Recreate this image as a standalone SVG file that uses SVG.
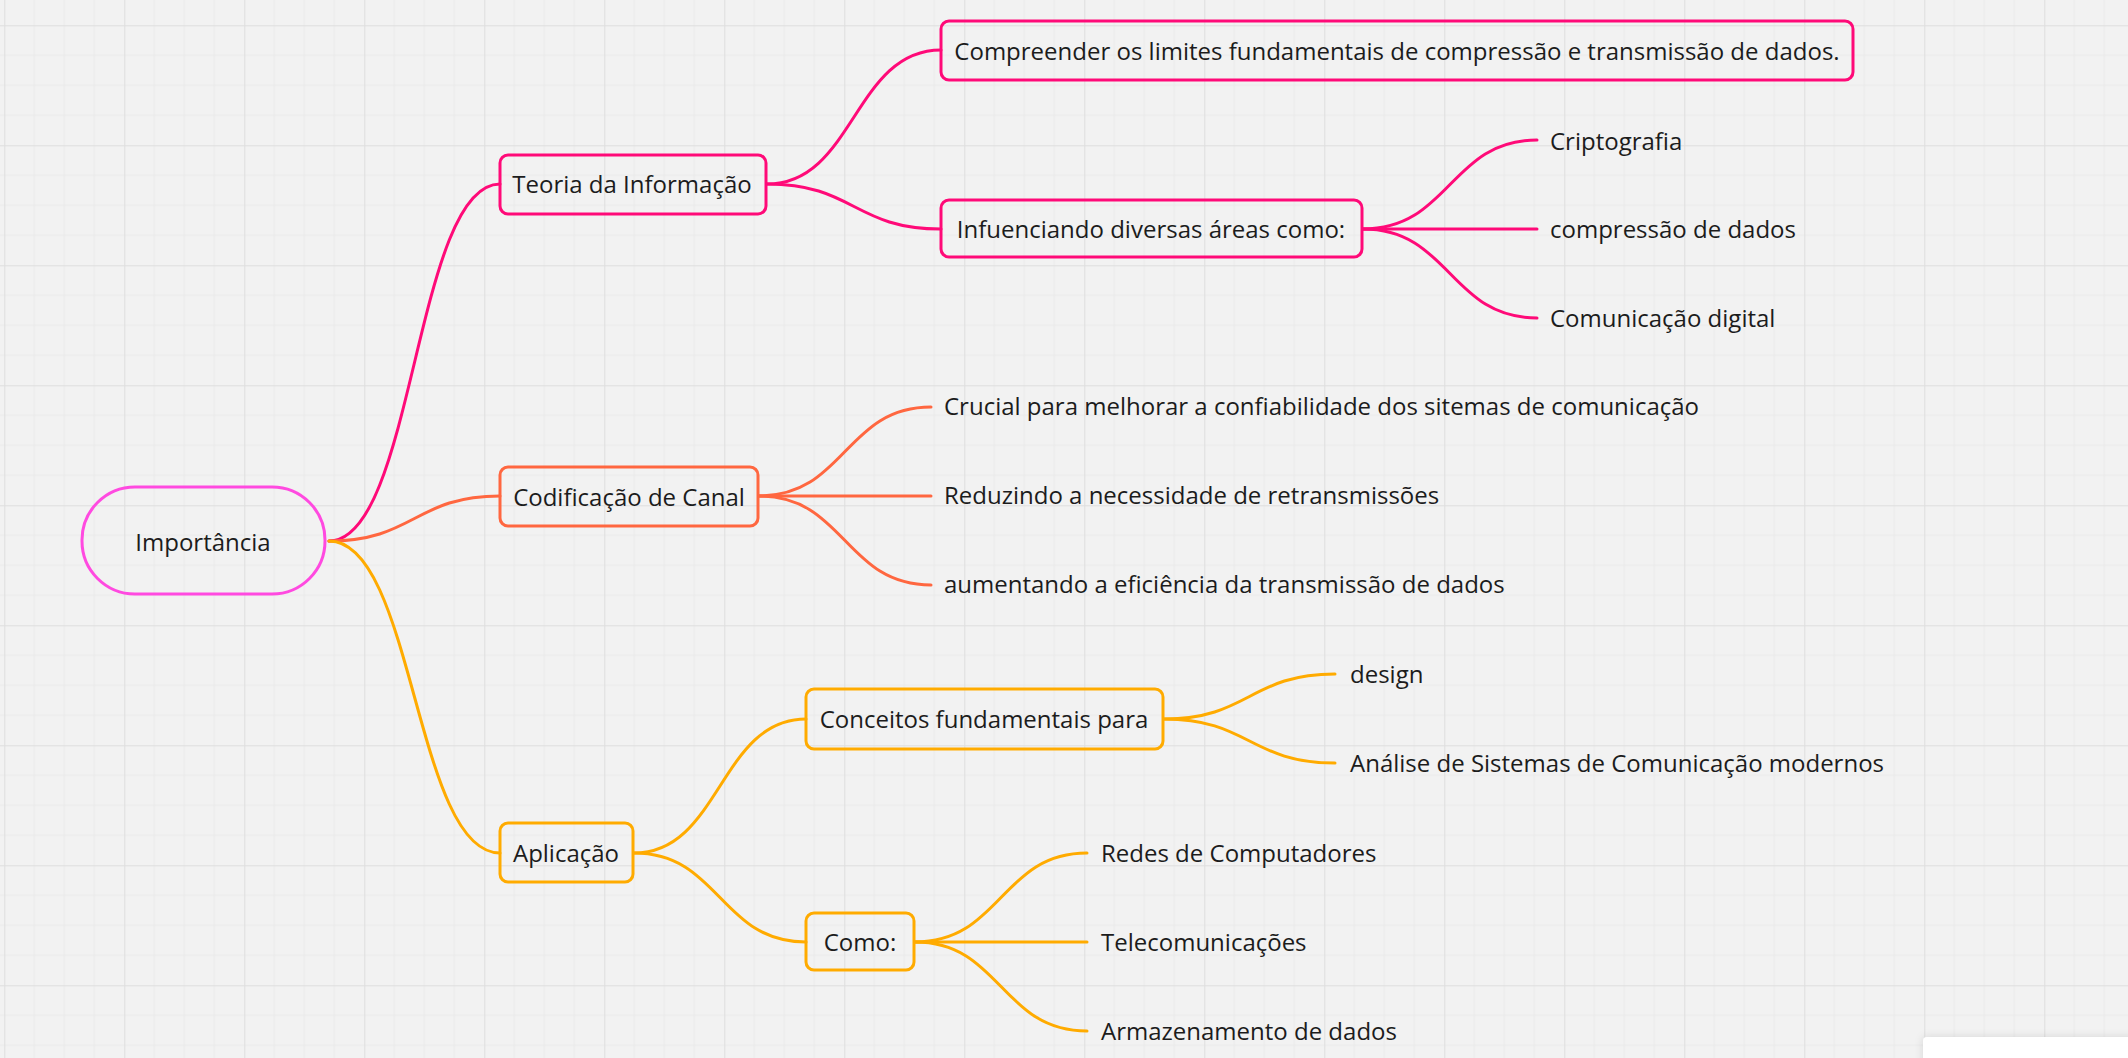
<svg xmlns="http://www.w3.org/2000/svg" width="2128" height="1058" viewBox="0 0 2128 1058">
<style>
text{font-family:"Open Sans","Noto Sans","Liberation Sans",sans-serif;font-size:24px;fill:#1c1c1c}
.c{text-anchor:middle}
.box{fill:none;stroke-width:3}
.pk{stroke:#ff0a78}
.or{stroke:#ff6740}
.am{stroke:#ffab00}
.link{fill:none;stroke-width:3;stroke-linecap:round}
</style>
<defs>
<pattern id="grid" patternUnits="userSpaceOnUse" x="4.3" y="25.3" width="120" height="120">
<path d="M30 0V120M60 0V120M90 0V120M0 30H120M0 60H120M0 90H120" stroke="#e9e9e9" stroke-width="1" fill="none"/>
<path d="M0 0V120M0 0H120" stroke="#dedede" stroke-width="2" fill="none"/>
</pattern>
<filter id="sh" x="-20%" y="-50%" width="140%" height="200%">
<feDropShadow dx="0" dy="0" stdDeviation="4" flood-color="#000" flood-opacity="0.12"/>
</filter>
</defs>
<rect width="2128" height="1058" fill="#f2f2f2"/>
<rect width="2128" height="1058" fill="url(#grid)"/>

<g id="connectors">
<path class="link pk" d="M329 541 C414 541 415 184 500 184"/>
<path class="link or" d="M329 541 C414 541 415 496 500 496"/>
<path class="link am" d="M329 541 C414 541 415 853 500 853"/>
<path class="link pk" d="M767 184 C854 184 854 50 941 50"/>
<path class="link pk" d="M767 184 C854 184 854 229 941 229"/>
<path class="link pk" d="M1363 229 C1450 229 1450 140 1537 140"/>
<path class="link pk" d="M1363 229 H1537"/>
<path class="link pk" d="M1363 229 C1450 229 1450 318 1537 318"/>
<path class="link or" d="M759 496 C845 496 845 407 931 407"/>
<path class="link or" d="M759 496 H931"/>
<path class="link or" d="M759 496 C845 496 845 585 931 585"/>
<path class="link am" d="M634 853 C720 853 720 719 806 719"/>
<path class="link am" d="M634 853 C720 853 720 942 806 942"/>
<path class="link am" d="M1164 719 C1249 719 1250 674 1335 674"/>
<path class="link am" d="M1164 719 C1249 719 1250 763 1335 763"/>
<path class="link am" d="M915 942 C1001 942 1001 853 1087 853"/>
<path class="link am" d="M915 942 H1087"/>
<path class="link am" d="M915 942 C1001 942 1001 1031 1087 1031"/>
</g>

<g id="importancia">
<rect x="82" y="487" width="243" height="107" rx="53" ry="53" fill="none" stroke="#ff4ae0" stroke-width="3"/>
<text class="c" x="203" y="551">Importância</text>
</g>
<g id="teoria">
<rect class="box pk" x="500" y="155" width="266" height="59" rx="8"/>
<text class="c" x="632" y="193">Teoria da Informação</text>
</g>
<g id="compreender">
<rect class="box pk" x="941" y="21" width="912" height="59" rx="8"/>
<text class="c" x="1397" y="60">Compreender os limites fundamentais de compressão e transmissão de dados.</text>
</g>
<g id="infuenciando">
<rect class="box pk" x="941" y="200" width="421" height="57" rx="8"/>
<text class="c" x="1151" y="238">Infuenciando diversas áreas como:</text>
</g>
<g id="criptografia"><text x="1550" y="150">Criptografia</text></g>
<g id="compressao"><text x="1550" y="238">compressão de dados</text></g>
<g id="comunicacao-digital"><text x="1550" y="327">Comunicação digital</text></g>

<g id="codificacao">
<rect class="box or" x="500" y="467" width="258" height="59" rx="8"/>
<text class="c" x="629" y="506">Codificação de Canal</text>
</g>
<g id="crucial"><text x="944" y="415">Crucial para melhorar a confiabilidade dos sitemas de comunicação</text></g>
<g id="reduzindo"><text x="944" y="504">Reduzindo a necessidade de retransmissões</text></g>
<g id="aumentando"><text x="944" y="593">aumentando a eficiência da transmissão de dados</text></g>

<g id="aplicacao">
<rect class="box am" x="500" y="823" width="133" height="59" rx="8"/>
<text class="c" x="566" y="862">Aplicação</text>
</g>
<g id="conceitos">
<rect class="box am" x="806" y="689" width="357" height="60" rx="8"/>
<text class="c" x="984" y="728">Conceitos fundamentais para</text>
</g>
<g id="design"><text x="1350" y="683">design</text></g>
<g id="analise"><text x="1350" y="772">Análise de Sistemas de Comunicação modernos</text></g>
<g id="como">
<rect class="box am" x="806" y="913" width="108" height="57" rx="8"/>
<text class="c" x="860" y="951">Como:</text>
</g>
<g id="redes"><text x="1101" y="862">Redes de Computadores</text></g>
<g id="telecom"><text x="1101" y="951">Telecomunicações</text></g>
<g id="armazenamento"><text x="1101" y="1040">Armazenamento de dados</text></g>

<rect x="1923" y="1037" width="220" height="40" rx="4" fill="#ffffff" filter="url(#sh)"/>
</svg>
